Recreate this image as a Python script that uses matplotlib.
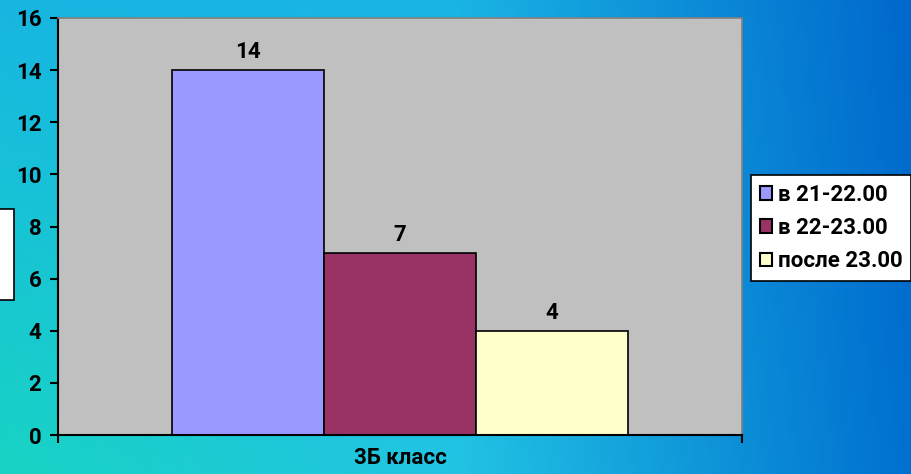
import matplotlib.pyplot as plt
import matplotlib.patches as mpatches
import numpy as np

# data
categories = ["3Б класс"]
series_names = ["в 21-22.00", "в 22-23.00", "после 23.00"]
series_values = [14, 7, 4]
series_colors = ["#9999FF", "#993366", "#FFFFCC"]

plt.rcParams['font.family'] = ['Roboto', 'DejaVu Sans']
plt.rcParams['font.weight'] = 'bold'

fig = plt.figure(figsize=(9.12, 4.74), dpi=100)

# background gradient (teal/cyan on the left to deep blue on the right)
bg = fig.add_axes([0, 0, 1, 1], zorder=-10)
bg.set_axis_off()
h, w = 120, 240
xs = np.linspace(0, 1, w)
ys = np.linspace(0, 1, h)[:, None]
top = np.array([[23, 182, 226], [26, 180, 228], [0, 104, 204]]) / 255.0
bot = np.array([[24, 212, 196], [34, 196, 228], [0, 112, 208]]) / 255.0
stops = [0.0, 0.5, 1.0]
img = np.zeros((h, w, 3))
for c in range(3):
    t_row = np.interp(xs, stops, top[:, c])
    b_row = np.interp(xs, stops, bot[:, c])
    img[:, :, c] = t_row[None, :] * (1 - ys) + b_row[None, :] * ys
bg.imshow(img, aspect='auto', extent=[0, 1, 0, 1], origin='upper')
bg.set_xlim(0, 1)
bg.set_ylim(0, 1)

# cut-off box on the left edge
fig.patches.append(mpatches.Rectangle((-0.01, 1 - 300 / 474), 0.0254, 91 / 474,
                                      transform=fig.transFigure, facecolor='white',
                                      edgecolor='black', linewidth=1.2, zorder=1))

ax = fig.add_axes([58 / 912, 1 - 435 / 474, 684 / 912, 417 / 474])
ax.set_facecolor('#C0C0C0')

x = np.arange(len(series_values)) - 1
bars = ax.bar(x, series_values, width=1.0, color=series_colors,
              edgecolor='black', linewidth=1.2, label=series_names)
for b, v in zip(bars, series_values):
    ax.annotate(str(v), (b.get_x() + b.get_width() / 2, v), xytext=(0, 5),
                textcoords='offset points', ha='center', va='bottom',
                fontsize=16, fontweight='bold')

ax.set_xlim(-2.25, 2.25)
ax.set_ylim(0, 16)
ax.set_yticks(range(0, 17, 2))
ax.tick_params(axis='y', labelsize=16, length=6, width=1.5, pad=6)
ax.set_xticks([0])
ax.set_xticklabels(categories)
ax.set_xticks([-2.25, 2.25], minor=True)
ax.tick_params(axis='x', which='major', length=0, labelsize=16, pad=9)
ax.tick_params(axis='x', which='minor', length=6, width=1.5)

for s in ['left', 'bottom']:
    ax.spines[s].set_color('black')
    ax.spines[s].set_linewidth(1.5)
for s in ['top', 'right']:
    ax.spines[s].set_color('#808080')
    ax.spines[s].set_linewidth(1.2)

handles = [mpatches.Patch(facecolor=c, edgecolor='black', linewidth=1.5)
           for c in series_colors]
leg = fig.legend(handles, series_names, loc='upper left',
                 bbox_to_anchor=(751 / 912, 1 - 175 / 474), fontsize=16,
                 frameon=True, fancybox=False, framealpha=1, edgecolor='black',
                 handlelength=0.55, handleheight=0.55, handletextpad=0.25,
                 borderpad=0.4, labelspacing=0.5, borderaxespad=0)
leg.get_frame().set_linewidth(1.2)
for t in leg.get_texts():
    t.set_fontweight('bold')

fig.savefig('out.png', dpi=100)
